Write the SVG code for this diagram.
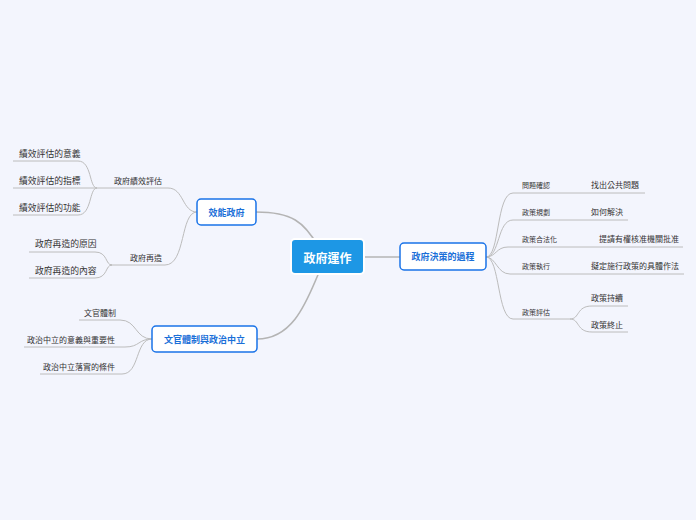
<svg xmlns="http://www.w3.org/2000/svg" width="696" height="520" viewBox="0 0 696 520">
<style>
text{font-family:"Noto Sans CJK TC","Noto Sans CJK SC",sans-serif;fill:#333;dominant-baseline:central}
.main{fill:#fff;stroke:#1a73e8;stroke-width:1.5}
.mt{fill:#1a6fd8;font-weight:bold;font-size:9px;text-anchor:middle}
.c1{fill:none;stroke:#b4b4b4;stroke-width:1.6}
.c2{fill:none;stroke:#bcbcbc;stroke-width:1}
.s7{font-size:7px}
.s8{font-size:8px}
.s9{font-size:8.8px}
.e{text-anchor:end}
</style>
<rect width="696" height="520" fill="#f3f5fd"/>
<g id="connectors">
<path class="c1" d="M256 212 C292 212 304 222 318 246"/>
<path class="c1" d="M257 339 C298 339 310 290 322 266"/>
<path class="c1" d="M364 257 L400 257"/>
<path class="c2" d="M97 188 L168 188 C184 188 182 212 197 212"/>
<path class="c2" d="M110 265 L165 265 C186 265 180 212 197 212"/>
<path class="c2" d="M13 161 L78 161 C92 161 89 188 97 188"/>
<path class="c2" d="M13 188 L97 188"/>
<path class="c2" d="M13 215 L78 215 C92 215 89 188 97 188"/>
<path class="c2" d="M29 252 L95 252 C108 252 105 265 112 265"/>
<path class="c2" d="M29 278 L95 278 C108 278 105 265 112 265"/>
<path class="c2" d="M79 320 L120 320 C137 320 135 339 152 339"/>
<path class="c2" d="M24 347 L125 347 C140 347 138 339 152 339"/>
<path class="c2" d="M40 374 L122 374 C140 374 135 339 152 339"/>
<path class="c2" d="M486 257 C500 257 496 193 513 193 L585 193"/>
<path class="c2" d="M486 257 C500 257 497 220 513 220 L585 220"/>
<path class="c2" d="M486 257 C496 257 496 247 508 247 L590 247"/>
<path class="c2" d="M486 257 C496 257 497 274 510 274 L585 274"/>
<path class="c2" d="M486 257 C500 257 497 319 513 319 L570 319"/>
<path class="c2" d="M585 193 L645 193"/>
<path class="c2" d="M585 220 L628 220"/>
<path class="c2" d="M590 247 L683 247"/>
<path class="c2" d="M585 274 L684 274"/>
<path class="c2" d="M570 319 C580 319 576 306 592 306 L628 306"/>
<path class="c2" d="M570 319 C580 319 576 332 592 332 L628 332"/>
</g>
<g id="root">
<rect x="291" y="239" width="73" height="35" rx="4" fill="#1d97e5" stroke="#fff" stroke-width="2"/>
<text x="327.5" y="257" style="fill:#fff;font-weight:bold;font-size:12px;text-anchor:middle">政府運作</text>
</g>
<g id="n-efficiency">
<rect class="main" x="197" y="199" width="59" height="26" rx="4"/>
<text class="mt" x="226.5" y="212">效能政府</text>
</g>
<g id="n-civil">
<rect class="main" x="152" y="326" width="105" height="26" rx="4"/>
<text class="mt" x="204.5" y="339">文官體制與政治中立</text>
</g>
<g id="n-policy">
<rect class="main" x="400" y="243" width="86" height="27" rx="4"/>
<text class="mt" x="443" y="256.5">政府決策的過程</text>
</g>
<g id="n-perf"><text class="s8 e" x="162" y="180">政府績效評估</text></g>
<g id="n-reinvent"><text class="s8 e" x="162" y="257">政府再造</text></g>
<g id="l1"><text class="s9" x="19" y="153">績效評估的意義</text></g>
<g id="l2"><text class="s9" x="19" y="180">績效評估的指標</text></g>
<g id="l3"><text class="s9" x="19" y="207">績效評估的功能</text></g>
<g id="l4"><text class="s9" x="35" y="243">政府再造的原因</text></g>
<g id="l5"><text class="s9" x="35" y="270">政府再造的內容</text></g>
<g id="l6"><text class="s8 e" x="116" y="312">文官體制</text></g>
<g id="l7"><text class="s8 e" x="115" y="339">政治中立的意義與重要性</text></g>
<g id="l8"><text class="s8 e" x="115" y="366">政治中立落實的條件</text></g>
<g id="p1"><text class="s7" x="522" y="185">問題確認</text></g>
<g id="p2"><text class="s7" x="522" y="212">政策規劃</text></g>
<g id="p3"><text class="s7" x="522" y="239">政策合法化</text></g>
<g id="p4"><text class="s7" x="522" y="266">政策執行</text></g>
<g id="p5"><text class="s7" x="522" y="312">政策評估</text></g>
<g id="q1"><text class="s8" x="591" y="184">找出公共問題</text></g>
<g id="q2"><text class="s8" x="591" y="211">如何解決</text></g>
<g id="q3"><text class="s8" x="599" y="238">提請有權核准機關批准</text></g>
<g id="q4"><text class="s8" x="591" y="265">擬定施行政策的具體作法</text></g>
<g id="q5"><text class="s8" x="591" y="297">政策持續</text></g>
<g id="q6"><text class="s8" x="591" y="324">政策終止</text></g>
</svg>
